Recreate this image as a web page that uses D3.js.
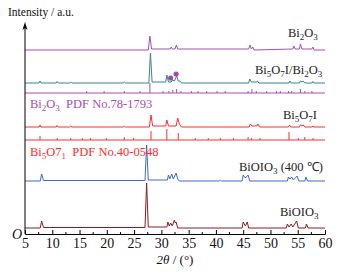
<!DOCTYPE html>
<html><head><meta charset="utf-8">
<script src="https://cdn.jsdelivr.net/npm/d3@7"></script>
<style>body{margin:0;background:#fff}svg{display:block;font-family:"Liberation Serif","Times New Roman",serif}</style>
</head><body><svg id="c" width="338" height="272"></svg>
<script>
// ---- data (2θ, relative intensity) ----
const xTicks = [5,10,15,20,25,30,35,40,45,50,55,60];
const bi2o3 = [[5,0],[27.6,0],[27.9,14],[28.2,1],[31.6,1],[31.8,3],[32.0,1],[32.5,1],[32.75,5],[33.0,1],[46.0,1],[46.25,5],[46.5,1],[46.75,3],[47.0,0],[54.1,1],[54.3,4],[54.5,1],[55.3,1],[55.5,6],[55.75,1],[57.6,1],[57.8,3],[58.0,0],[60,0]];
const composite = [[5,0],[7.55,0],[7.75,2],[7.95,0],[10.7,0],[10.9,1.5],[11.1,0],[13.2,0],[13.4,1],[13.6,0],[23.0,0],[23.2,1],[23.4,0],[27.7,0],[28.0,30],[28.3,1],[30.8,1],[31.0,8],[31.3,1],[31.8,1],[32.0,3],[32.4,2],[32.8,7],[33.1,2],[33.4,2],[33.7,0],[46.0,0],[46.2,4],[46.5,1],[47.4,1],[47.6,2],[47.9,0],[53.4,0],[53.6,2],[53.8,0],[55.3,0],[55.5,2],[55.8,1],[56.0,2],[56.3,0],[57.6,0],[57.8,1.5],[58.0,0],[60,0]];
const compositeMarks = [[31.7,5],[32.7,9]];
const pdfBi2O3 = [[16.3,2],[19.5,2],[23.2,2],[26.1,2],[27.9,10],[30.3,2],[31.4,2],[32.1,3],[32.8,4],[33.6,2],[35.5,2],[36.7,2],[38.3,2],[40.2,2],[41.7,2],[45.9,2],[46.6,4],[47.4,2],[49.3,2],[51.1,2],[51.8,2],[53.3,2],[53.9,2],[55.5,4],[56.3,2],[57.6,2]];
const bi5o7i = [[5,0],[7.55,0],[7.75,2],[7.95,0],[10.7,0],[10.9,1.5],[11.1,0],[13.2,0],[13.4,1],[13.6,0],[23.0,0],[23.2,1],[23.4,0],[27.8,0],[28.1,12],[28.4,1],[30.8,1],[31.0,7],[31.3,1],[32.7,1],[33.0,9],[33.3,3],[33.7,0],[46.1,0],[46.3,3],[46.6,1],[47.5,1],[47.7,3],[48.0,0],[53.3,0],[53.5,2],[53.7,0],[55.3,0],[55.5,2],[55.8,1],[56.0,2],[56.3,0],[57.6,0],[57.8,1],[58.0,0],[60,0]];
const pdfBi5O7I = [[7.75,4],[10.9,2],[13.4,2],[15.5,2],[17.0,2],[19.9,2],[23.2,3],[24.9,2],[28.1,9],[31.0,11],[33.1,7],[36.2,2],[38.6,2],[40.8,2],[43.2,2],[45.9,3],[46.5,2],[48.1,2],[53.4,8],[55.1,2],[56.3,3],[57.8,2]];
const biOIO3_400 = [[5,0],[7.8,0],[8.05,7],[8.4,0.5],[27.0,0.5],[27.3,36],[27.6,1],[31.1,1],[31.3,6],[31.55,2],[31.9,7],[32.2,2],[32.7,8],[33.0,2],[33.3,0],[40.6,0],[40.8,1],[41.0,0],[44.8,0],[45.0,6],[45.4,3],[45.9,6],[46.2,0],[53.1,0],[53.3,4],[53.6,2],[53.9,4],[54.2,1],[54.9,5],[55.2,0],[56.3,0],[56.5,4],[56.8,0],[60,0]];
const biOIO3 = [[5,0],[7.8,0],[8.05,7],[8.4,0.5],[27.0,0.5],[27.3,45],[27.6,1],[31.0,1],[31.2,6],[31.45,2],[31.7,5],[32.0,2],[32.4,8],[32.55,5],[32.7,6],[33.0,0],[44.8,0],[45.0,6],[45.4,2],[45.75,6],[46.0,0],[52.9,0],[53.1,4],[53.4,1],[53.8,4],[54.1,1],[54.8,7],[55.1,0],[56.4,0],[56.6,4],[56.9,0],[60,0]];
// vertical offsets of the stacked patterns
const offsets = {bi2o3:184, composite:151, pdfBi2O3:141, bi5o7i:107, pdfBi5O7I:94, biOIO3_400:53, biOIO3:6};

const svg = d3.select("#c");
const x = d3.scaleLinear().domain([5,60]).range([25,325]);
const y = d3.scaleLinear().domain([0,210]).range([234,24]);

const line = off => d3.line().x(d=>x(d[0])).y(d=>y(d[1]+off));
function trace(data, off, color){
  svg.append("path").datum(data).attr("d", line(off)).attr("fill","none").attr("stroke",color).attr("stroke-width",1).attr("stroke-linejoin","round");
}
function sticks(data, off, color){
  svg.append("line").attr("x1",x(5)).attr("x2",x(60)).attr("y1",y(off)).attr("y2",y(off)).attr("stroke",color).attr("stroke-width",1);
  svg.selectAll(null).data(data).enter().append("line")
    .attr("x1",d=>x(d[0])).attr("x2",d=>x(d[0])).attr("y1",y(off)).attr("y2",d=>y(off+d[1]))
    .attr("stroke",color).attr("stroke-width",1);
}
function chem(sel, str){
  // "_" marks next char as subscript
  const parts=[]; let i=0;
  while(i<str.length){
    if(str[i]==="_"){ parts.push({t:str[i+1],sub:true}); i+=2; }
    else { let j=i; while(j<str.length && str[j]!=="_") j++; parts.push({t:str.slice(i,j),sub:false}); i=j; }
  }
  let low=false;
  parts.forEach(p=>{
    const ts = sel.append("tspan").text(p.t);
    if(p.sub){ ts.attr("font-size","0.72em").attr("dy", low?0:3); low=true; }
    else { if(low) ts.attr("dy",-3); low=false; }
  });
}
function label(tx,ty,str,color,size){
  const t = svg.append("text").attr("x",tx).attr("y",ty).attr("fill",color).attr("font-size",size);
  chem(t,str);
}

const cPurple="#a64fb0", cTeal="#2e8a7f", cRed="#ff2d2d", cBlue="#3b6cc6", cDark="#8a1c22";
trace(bi2o3, offsets.bi2o3, cPurple);
trace(composite, offsets.composite, cTeal);
sticks(pdfBi2O3, offsets.pdfBi2O3, cPurple);
trace(bi5o7i, offsets.bi5o7i, cRed);
sticks(pdfBi5O7I, offsets.pdfBi5O7I, cRed);
trace(biOIO3_400, offsets.biOIO3_400, cBlue);
trace(biOIO3, offsets.biOIO3, cDark);
svg.selectAll(null).data(compositeMarks).enter().append("circle")
  .attr("cx",d=>x(d[0])).attr("cy",d=>y(d[1]+offsets.composite)).attr("r",2.6).attr("fill","#a24aa8");

// axes
const ax = svg.append("g").attr("transform","translate(0,234)")
  .call(d3.axisBottom(x).tickValues(xTicks).tickSize(-4).tickPadding(8).tickFormat(d3.format("d")));
ax.select(".domain").attr("stroke","#000");
ax.selectAll(".tick text").attr("font-size",14).attr("font-family","Liberation Serif").attr("fill","#111").attr("dy","0.45em");
const minor = d3.range(7.5,60,5);
svg.selectAll(null).data(minor).enter().append("line").attr("x1",d=>x(d)).attr("x2",d=>x(d)).attr("y1",234).attr("y2",232).attr("stroke","#000");
svg.append("line").attr("x1",25).attr("x2",25).attr("y1",234).attr("y2",28).attr("stroke","#000").attr("stroke-width",1);
svg.append("path").attr("d","M25,22 L22.5,30 L25,28 L27.5,30 Z").attr("fill","#000");

svg.append("text").attr("x",8).attr("y",16).attr("font-size",11.5).attr("fill","#111").text("Intensity / a.u.");
svg.append("text").attr("x",12).attr("y",239).attr("font-size",14).attr("font-style","italic").attr("fill","#111").text("O");
const xt = svg.append("text").attr("x",175).attr("y",264).attr("text-anchor","middle").attr("font-size",13).attr("fill","#111");
xt.append("tspan").attr("font-style","italic").text("2θ");
xt.append("tspan").text(" / (°)");

label(288,37,"Bi_2O_3","#222",12.5);
label(255,74,"Bi_5O_7I/Bi_2O_3","#222",12.5);
label(283,119,"Bi_5O_7I","#222",12.5);
label(239,171,"BiOIO_3 (400 ℃)","#222",12.5);
label(280,216,"BiOIO_3","#222",12.5);
label(30,108,"Bi_2O_3\u00a0\u00a0PDF No.78-1793",cPurple,12.5);
label(30,156,"Bi_5O7_1\u00a0\u00a0PDF No.40-0548",cRed,12.5);
</script></body></html>
